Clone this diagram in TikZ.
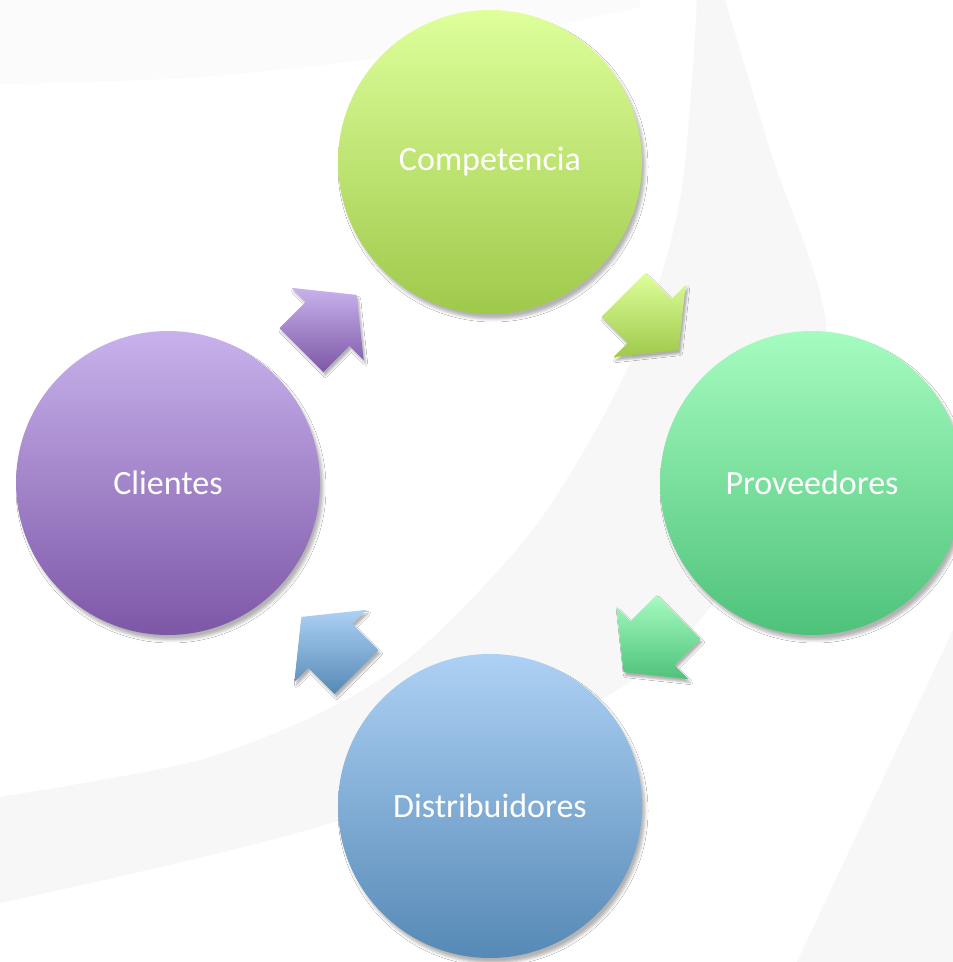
\documentclass[tikz,border=0pt]{standalone}
\usepackage{fontspec}
\setmainfont{Carlito}
\usetikzlibrary{calc,shadows.blur}
\definecolor{compT}{HTML}{DEFF9B}
\definecolor{compB}{HTML}{9FC94B}
\definecolor{provT}{HTML}{A6FCC0}
\definecolor{provB}{HTML}{4EC27A}
\definecolor{distT}{HTML}{ADD1F4}
\definecolor{distB}{HTML}{5689B6}
\definecolor{cliT}{HTML}{C8B2EC}
\definecolor{cliB}{HTML}{7D57A7}
\tikzset{
  bubble/.style={circle, minimum size=304pt, inner sep=0pt, text=white,
    font=\fontsize{34}{40}\selectfont,
    blur shadow={shadow xshift=3pt, shadow yshift=-5pt, shadow blur radius=3pt, shadow opacity=30}},
  blockarrow/.style={blur shadow={shadow xshift=2pt, shadow yshift=-3.5pt, shadow blur radius=2pt, shadow opacity=30}},
  swoosh/.style={fill=black!3, draw=none},
  faint/.style={fill=black!1.5, draw=none}
}
\newcommand\cyclearrow[4]{%
  \path[blockarrow, top color=#3, bottom color=#4]
    ($(#1)+(#2:-39pt)+(#2+90:31pt)$) --
    ($(#1)+(#2:-2pt)+(#2+90:31pt)$) --
    ($(#1)+(#2:-2pt)+(#2+90:51pt)$) --
    ($(#1)+(#2:39pt)$) --
    ($(#1)+(#2:-2pt)+(#2-90:51pt)$) --
    ($(#1)+(#2:-2pt)+(#2-90:31pt)$) --
    ($(#1)+(#2:-39pt)+(#2-90:31pt)$) -- cycle;}
\begin{document}
\begin{tikzpicture}[x=1pt,y=1pt]
\useasboundingbox (0,0) rectangle (953,962);
\fill[white] (0,0) rectangle (953,962);
\begin{scope}
\clip (0,0) rectangle (953,962);
\fill[faint] (0,962) -- (640,962) -- plot[smooth] coordinates {(640,955) (420,910) (200,885) (0,878)} -- cycle;
\fill[swoosh] plot[smooth] coordinates {(0,165) (200,202) (340,259) (430,322) (540,442) (630,599) (680,762) (697,962)}
  -- plot[smooth] coordinates {(725,962) (770,812) (827,622) (760,450) (700,342) (600,262) (340,142) (0,59)} -- cycle;
\fill[swoosh] (953,332) -- (797,0) -- (953,0) -- cycle;
\end{scope}
\node[bubble, top color=compT, bottom color=compB] (comp) at (490,800) {Competencia};
\node[bubble, top color=provT, bottom color=provB] (prov) at (812,479) {Proveedores};
\node[bubble, top color=distT, bottom color=distB] (dist) at (490,156) {Distribuidores};
\node[bubble, top color=cliT, bottom color=cliB] (cli) at (168,479) {Clientes};
\coordinate (a1) at ($(comp)!0.5!(prov)$);
\coordinate (a2) at ($(prov)!0.5!(dist)$);
\coordinate (a3) at ($(dist)!0.5!(cli)$);
\coordinate (a4) at ($(cli)!0.5!(comp)$);
\cyclearrow{a1}{-45}{compT}{compB}
\cyclearrow{a2}{-135}{provT}{provB}
\cyclearrow{a3}{135}{distT}{distB}
\cyclearrow{a4}{45}{cliT}{cliB}
\end{tikzpicture}
\end{document}
